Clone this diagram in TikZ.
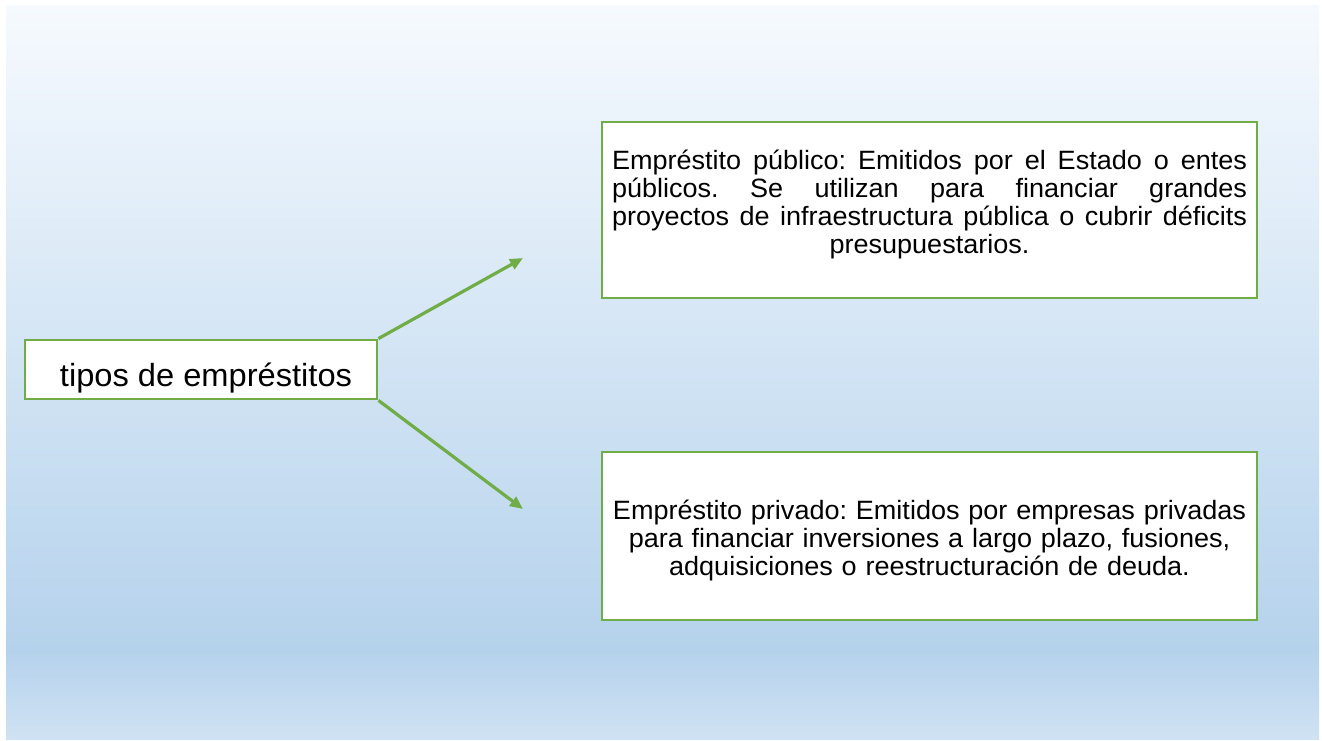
\documentclass[tikz,border=0pt]{standalone}
\usepackage{fontspec}
\setmainfont{Liberation Sans}[FakeStretch=1.02]
\usetikzlibrary{arrows.meta}
\definecolor{bgtop}{RGB}{246,250,254}
\definecolor{bgpeak}{RGB}{181,210,236}
\definecolor{bgbot}{RGB}{208,226,243}
\definecolor{lgreen}{RGB}{112,173,71}
\pgfdeclareverticalshading{bgshade}{100bp}{color(0bp)=(bgbot); color(25bp)=(bgbot); color(31bp)=(bgpeak); color(75bp)=(bgtop); color(100bp)=(bgtop)}
\begin{document}
\begin{tikzpicture}[x=1pt,y=-1pt,
  box/.style={draw=lgreen, line width=2.8pt, fill=white, inner sep=0pt},
  link/.style={draw=lgreen, line width=3.2pt, -{Triangle[length=13pt,width=11pt]}},
  txt/.style={font=\fontsize{26.5}{28}\selectfont\frenchspacing, inner sep=0pt, anchor=base, text width=660pt, align=center},
  bigtxt/.style={font=\fontsize{32}{34}\selectfont, inner sep=0pt, anchor=base}]
\path[use as bounding box, fill=white] (0,0) rectangle (1322,740);
\path[shading=bgshade] (6,5) rectangle (1319,739);

\node[box, minimum width=352pt, minimum height=59pt] (src) at (201,369.5) {};
\node[bigtxt] (srclbl) at (206,386) {tipos de empréstitos};

\node[box, minimum width=655pt, minimum height=176pt] (pub) at (929.5,210) {};
\node[txt] (publbl) at (929.5,169) {\makebox[635pt]{Empréstito\hfill público:\hfill Emitidos\hfill por\hfill el\hfill Estado\hfill o\hfill entes}\\ \makebox[635pt]{públicos.\hfill Se\hfill utilizan\hfill para\hfill financiar\hfill grandes}\\ \makebox[635pt]{proyectos\hfill de\hfill infraestructura\hfill pública\hfill o\hfill cubrir\hfill déficits}\\ presupuestarios.};

\node[box, minimum width=655pt, minimum height=168pt] (priv) at (929.5,536) {};
\node[txt] (privlbl) at (929.5,519) {Empréstito privado: Emitidos por empresas privadas\\ para financiar inversiones a largo plazo, fusiones,\\ adquisiciones o reestructuración de deuda.};

\coordinate (t1) at (523,258);
\coordinate (t2) at (523,509);
\draw[link] (src.north east) -- (t1);
\draw[link] (src.south east) -- (t2);
\end{tikzpicture}
\end{document}
